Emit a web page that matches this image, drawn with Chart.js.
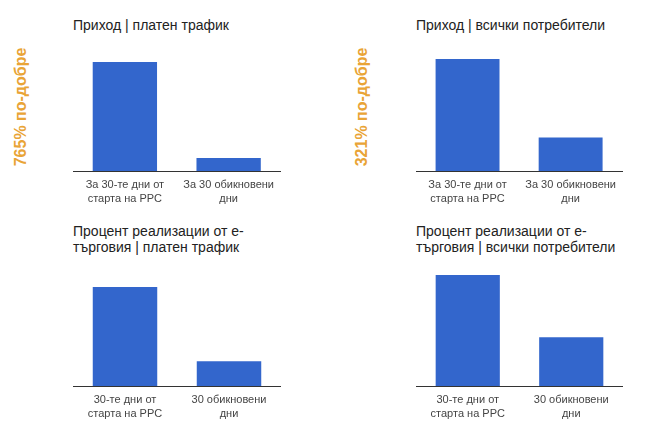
<!DOCTYPE html>
<html>
<head>
<meta charset="utf-8">
<script src="https://cdn.jsdelivr.net/npm/chart.js@4"></script>
<style>
  body { margin: 0; background: #fff; width: 654px; height: 435px; position: relative; overflow: hidden;
         font-family: "Liberation Sans", Arial, sans-serif; }
  .title { position: absolute; font-size: 14px; line-height: 16px; color: #222; white-space: nowrap; }
  .better { position: absolute; font-size: 16px; font-weight: bold; color: #e9a436; white-space: nowrap;
            transform: translate(-50%, -50%) rotate(-90deg); }
  .box { position: absolute; }
</style>
</head>
<body>
<div class="title" style="left:73px;top:17px">Приход | платен трафик</div>
<div class="title" style="left:416px;top:17px">Приход | всички потребители</div>
<div class="title" style="left:73px;top:223px">Процент реализации от е-<br>търговия | платен трафик</div>
<div class="title" style="left:416px;top:223px">Процент реализации от е-<br>търговия | всички потребители</div>
<div class="better" id="b1" style="left:21px;top:107px"></div>
<div class="better" id="b2" style="left:362px;top:107px"></div>

<div class="box" style="left:73px;top:62px;width:208px;height:151px"><canvas id="c1"></canvas></div>
<div class="box" style="left:416px;top:59px;width:207px;height:154px"><canvas id="c2"></canvas></div>
<div class="box" style="left:73px;top:287px;width:208px;height:141px"><canvas id="c3"></canvas></div>
<div class="box" style="left:416px;top:275px;width:207px;height:153px"><canvas id="c4"></canvas></div>

<script>
// categories
const revenueLabels = [["За 30-те дни от", "старта на PPC"], ["За 30 обикновени", "дни"]];
const conversionLabels = [["30-те дни от", "старта на PPC"], ["30 обикновени", "дни"]];

// values, relative to the PPC period (=100)
const revenuePaid = [100, 12];
const revenueAll = [100, 30];
const conversionPaid = [100, 25];
const conversionAll = [100, 44];

const improvements = ["765% по-добре", "321% по-добре"];

document.getElementById('b1').textContent = improvements[0];
document.getElementById('b2').textContent = improvements[1];

const makeChart = (id, labels, values) => {
  const ctx = document.getElementById(id).getContext('2d');
  return new Chart(ctx, {
    type: 'bar',
    data: {
      labels: labels,
      datasets: [{
        data: values,
        backgroundColor: '#3366cc',
        barPercentage: 0.62,
        categoryPercentage: 1
      }]
    },
    options: {
      responsive: true,
      maintainAspectRatio: false,
      animation: false,
      layout: { padding: 0 },
      plugins: { legend: { display: false }, tooltip: { enabled: false } },
      scales: {
        x: {
          grid: { drawOnChartArea: false, drawTicks: false },
          border: { display: true, color: '#333', width: 1 },
          ticks: {
            color: '#444',
            padding: 7,
            maxRotation: 0,
            autoSkip: false,
            font: { family: '"Liberation Sans", Arial, sans-serif', size: 11, lineHeight: '14px' }
          }
        },
        y: { display: false, min: 0, max: 100 }
      }
    }
  });
}

makeChart('c1', revenueLabels, revenuePaid);
makeChart('c2', revenueLabels, revenueAll);
makeChart('c3', conversionLabels, conversionPaid);
makeChart('c4', conversionLabels, conversionAll);
</script>
</body>
</html>
